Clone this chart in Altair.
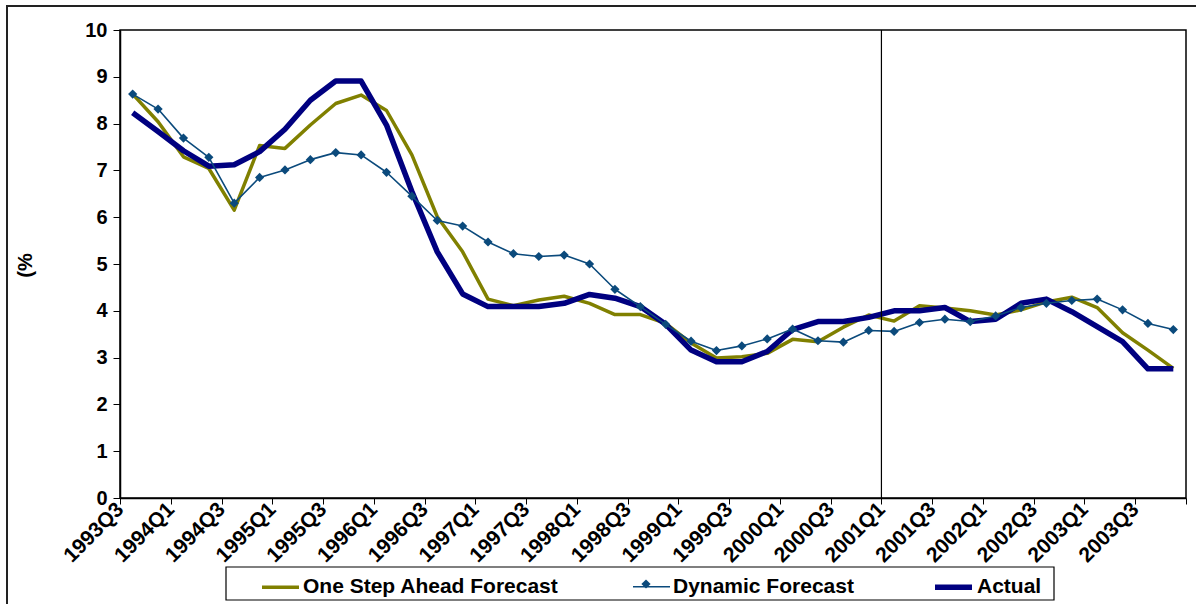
import altair as alt
import pandas as pd

# Quarterly observations, 1993Q3 .. 2003Q4
quarters = [
    "1993Q3", "1993Q4",
    "1994Q1", "1994Q2", "1994Q3", "1994Q4",
    "1995Q1", "1995Q2", "1995Q3", "1995Q4",
    "1996Q1", "1996Q2", "1996Q3", "1996Q4",
    "1997Q1", "1997Q2", "1997Q3", "1997Q4",
    "1998Q1", "1998Q2", "1998Q3", "1998Q4",
    "1999Q1", "1999Q2", "1999Q3", "1999Q4",
    "2000Q1", "2000Q2", "2000Q3", "2000Q4",
    "2001Q1", "2001Q2", "2001Q3", "2001Q4",
    "2002Q1", "2002Q2", "2002Q3", "2002Q4",
    "2003Q1", "2003Q2", "2003Q3", "2003Q4",
]

one_step = [8.63, 8.04, 7.29, 7.04, 6.15, 7.53, 7.47, 7.97, 8.43, 8.61,
            8.28, 7.33, 6.01, 5.26, 4.25, 4.11, 4.23, 4.31, 4.16, 3.92,
            3.92, 3.73, 3.31, 2.99, 3.02, 3.09, 3.39, 3.34, 3.65, 3.91,
            3.78, 4.11, 4.06, 4.00, 3.91, 4.02, 4.19, 4.29, 4.07, 3.53,
            3.16, 2.77]

dynamic = [8.63, 8.31, 7.69, 7.28, 6.30, 6.85, 7.01, 7.23, 7.38, 7.33,
           6.96, 6.45, 5.93, 5.81, 5.47, 5.22, 5.16, 5.19, 5.00, 4.46,
           4.09, 3.71, 3.35, 3.15, 3.25, 3.40, 3.61, 3.36, 3.33, 3.58,
           3.56, 3.75, 3.82, 3.77, 3.89, 4.07, 4.16, 4.22, 4.25, 4.02,
           3.73, 3.60]

actual = [8.23, 7.83, 7.42, 7.09, 7.12, 7.40, 7.88, 8.50, 8.91, 8.91,
          7.97, 6.55, 5.26, 4.36, 4.09, 4.09, 4.09, 4.16, 4.35, 4.27,
          4.09, 3.71, 3.16, 2.91, 2.91, 3.13, 3.60, 3.77, 3.77, 3.86,
          4.00, 4.00, 4.07, 3.77, 3.82, 4.16, 4.25, 3.98, 3.66, 3.34,
          2.76, 2.76]

series_names = ["One Step Ahead Forecast", "Dynamic Forecast", "Actual"]
series_colors = ["#808000", "#0b4a7c", "#000080"]
series_widths = [3.5, 1.6, 5.5]

forecast_start = "2001Q1"   # start of the out-of-sample period
y_ticks = [0, 1, 2, 3, 4, 5, 6, 7, 8, 9, 10]

FONT = "Liberation Sans"

# long table: each quarter sits in the middle of its own unit slot on the x scale
rows = []
for name, vals in zip(series_names, [one_step, dynamic, actual]):
    for i, (q, v) in enumerate(zip(quarters, vals)):
        rows.append({"quarter": q, "pos": i + 0.5, "series": name, "value": v})
df = pd.DataFrame(rows)

n = len(quarters)
labels_js = "[" + ",".join("'%s'" % q for q in quarters) + "]"
x_label_expr = "datum.value %% 2 == 0 && datum.value < %d ? %s[datum.value] : ''" % (n, labels_js)

x_enc = alt.X(
    "pos:Q",
    scale=alt.Scale(domain=[0, n], nice=False, zero=False),
    axis=alt.Axis(
        values=list(range(n + 1)), labelExpr=x_label_expr, title=None,
        labelAngle=-45, labelAlign="right", labelBaseline="middle",
        labelPadding=2, labelOverlap=False, labelFlush=False,
        labelFontSize=21, labelFont=FONT, labelFontWeight="bold", labelColor="black",
        tickSize=6, tickColor="black", domainColor="black", domainWidth=1.5, grid=False,
    ),
)
y_enc = alt.Y(
    "value:Q",
    scale=alt.Scale(domain=[0, 10], nice=False),
    axis=alt.Axis(
        values=y_ticks, title="(%", titleX=-85, titleY=235, titleFontSize=20,
        titleFont=FONT, titleFontWeight="bold", titleColor="black",
        labelFontSize=20, labelFont=FONT, labelFontWeight="bold", labelColor="black",
        labelPadding=6, tickSize=7, tickColor="black", domainColor="black",
        domainWidth=1.5, grid=False,
    ),
)

# legend placement (relative to the plot origin)
LEG_X, LEG_MID_Y = 140, 554
SWATCH = 37

color_enc = alt.Color(
    "series:N",
    scale=alt.Scale(domain=series_names, range=series_colors),
    legend=alt.Legend(
        title=None, orient="none", legendX=LEG_X, legendY=LEG_MID_Y - SWATCH / 2,
        direction="horizontal", padding=0, columnPadding=70, labelOffset=2,
        labelFontSize=21, labelFont=FONT, labelFontWeight="bold", labelColor="black",
        labelLimit=0, symbolSize=SWATCH * SWATCH, symbolType="stroke",
    ),
)
width_enc = alt.StrokeWidth(
    "series:N",
    scale=alt.Scale(type="ordinal", domain=series_names, range=series_widths),
    legend=None,
)

base = alt.Chart(df)


def series_line(name):
    return base.transform_filter(alt.datum.series == name).mark_line(
        strokeJoin="round", strokeCap="butt"
    ).encode(x=x_enc, y=y_enc, color=color_enc, strokeWidth=width_enc)


dyn_points = base.transform_filter(alt.datum.series == "Dynamic Forecast").mark_point(
    shape="diamond", filled=True, size=85, opacity=1, color=series_colors[1]
).encode(x=x_enc, y=y_enc)

split_rule = alt.Chart(
    pd.DataFrame({"pos": [quarters.index(forecast_start)]})
).mark_rule(color="black", strokeWidth=1.2).encode(x=alt.X("pos:Q"))

# outer frame around the whole figure
frame = alt.Chart(pd.DataFrame({"k": [0]})).mark_rect(
    fillOpacity=0, stroke="#222222", strokeWidth=2
).encode(
    x=alt.value(-113), x2=alt.value(1090), y=alt.value(-24), y2=alt.value(600)
)

# box drawn around the legend entries
legend_box = alt.Chart(pd.DataFrame({"k": [0]})).mark_rect(
    fillOpacity=0, stroke="black", strokeWidth=1.2
).encode(
    x=alt.value(106), x2=alt.value(934), y=alt.value(537), y2=alt.value(570)
)

# diamond marker on the Dynamic Forecast legend swatch
legend_diamond = alt.Chart(pd.DataFrame({"k": [0]})).mark_point(
    shape="diamond", filled=True, size=85, opacity=1, color=series_colors[1]
).encode(x=alt.value(526), y=alt.value(LEG_MID_Y))

chart = alt.layer(
    frame,
    legend_box,
    series_line("One Step Ahead Forecast"),
    series_line("Actual"),
    series_line("Dynamic Forecast"),
    dyn_points,
    split_rule,
    legend_diamond,
).resolve_scale(color="shared", strokeWidth="shared").properties(
    width=1066, height=468, autosize="none",
    padding={"left": 120, "top": 30, "right": 10, "bottom": 106},
    background="white",
).configure_view(stroke="black", strokeWidth=1.5)

chart.save("out.html", embed_options={"renderer": "svg", "actions": False})
